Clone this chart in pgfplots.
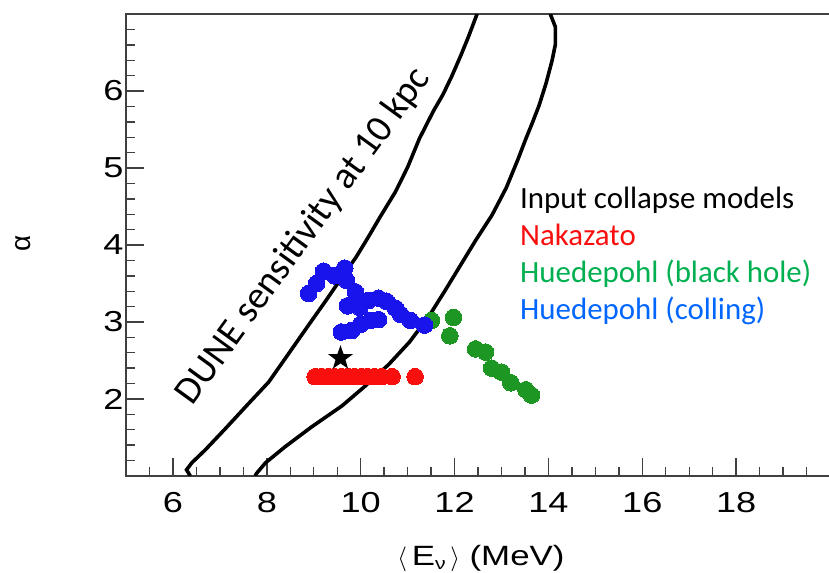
\documentclass[border=0pt]{standalone}
\usepackage{fontspec}
\setmainfont{Carlito}
\newfontfamily\helv[FakeStretch=1.25]{Liberation Sans}
\newfontfamily\helvn{Liberation Sans}
\usepackage{pgfplots}
\usepackage{pgfplotstable}
\pgfplotsset{compat=1.18}
\definecolor{mred}{RGB}{250,15,15}
\definecolor{mgreen}{RGB}{30,150,35}
\definecolor{mblue}{RGB}{25,20,235}
\definecolor{tgreen}{RGB}{0,176,80}
\definecolor{tblue}{RGB}{0,102,255}
\pgfdeclareplotmark{fstar}{%
  \pgfpathmoveto{\pgfpointpolar{90}{\pgfplotmarksize}}%
  \pgfpathlineto{\pgfpointpolar{126}{0.4\pgfplotmarksize}}%
  \pgfpathlineto{\pgfpointpolar{162}{\pgfplotmarksize}}%
  \pgfpathlineto{\pgfpointpolar{198}{0.4\pgfplotmarksize}}%
  \pgfpathlineto{\pgfpointpolar{234}{\pgfplotmarksize}}%
  \pgfpathlineto{\pgfpointpolar{270}{0.4\pgfplotmarksize}}%
  \pgfpathlineto{\pgfpointpolar{306}{\pgfplotmarksize}}%
  \pgfpathlineto{\pgfpointpolar{342}{0.4\pgfplotmarksize}}%
  \pgfpathlineto{\pgfpointpolar{18}{\pgfplotmarksize}}%
  \pgfpathlineto{\pgfpointpolar{54}{0.4\pgfplotmarksize}}%
  \pgfpathclose
  \pgfusepathqfill}

\pgfplotstableread{
x y
6.37 1.00
6.29 1.08
6.40 1.17
6.69 1.34
7.11 1.61
7.61 1.94
8.04 2.22
8.42 2.55
8.89 2.96
9.25 3.27
9.60 3.58
9.90 3.84
10.15 4.09
10.42 4.37
10.74 4.69
11.00 5.01
11.25 5.38
11.55 5.74
11.75 5.95
11.94 6.19
12.14 6.47
12.30 6.71
12.48 7.00
}\leftcurve

\pgfplotstableread{
x y
7.75 1.00
7.79 1.04
7.97 1.17
8.39 1.38
8.96 1.64
9.60 1.91
10.10 2.17
10.60 2.45
11.04 2.74
11.45 3.07
11.80 3.41
12.14 3.75
12.45 4.06
12.80 4.39
13.10 4.74
13.35 5.11
13.52 5.38
13.66 5.59
13.80 5.81
13.95 6.10
14.08 6.40
14.15 6.61
14.15 6.83
14.04 7.00
}\rightcurve

\pgfplotstableread{
x y
9.03 2.29
9.17 2.29
9.31 2.29
9.45 2.29
9.59 2.29
9.73 2.29
9.87 2.29
10.01 2.29
10.15 2.29
10.30 2.29
10.45 2.29
10.67 2.29
11.16 2.29
}\nakazato

\pgfplotstableread{
x y
8.89 3.37
9.06 3.50
9.21 3.66
9.44 3.60
9.66 3.70
9.70 3.54
9.89 3.39
9.72 3.21
9.98 3.19
10.17 3.28
10.38 3.31
10.55 3.27
10.21 3.02
10.00 2.97
9.81 2.89
9.59 2.87
10.38 3.03
10.74 3.18
10.85 3.10
11.06 3.02
11.36 2.96
}\cooling

\pgfplotstableread{
x y
11.51 3.02
11.98 3.06
11.90 2.82
12.45 2.65
12.66 2.61
12.79 2.40
13.00 2.35
13.20 2.21
13.52 2.12
13.64 2.05
}\blackhole

\pgfplotstableread{
x y
9.57 2.53
}\starpt

\begin{document}
\begin{tikzpicture}
\path[use as bounding box] (0,0) rectangle (829bp,573bp);
\begin{axis}[
  at={(126bp,97bp)}, anchor=south west,
  scale only axis, width=704bp, height=462bp,
  xmin=5, xmax=20, ymin=1, ymax=7,
  xtick={6,8,...,18}, ytick={2,3,4,5,6},
  minor xtick={5.5,6,...,19.5},
  minor ytick={1.2,1.4,...,6.8},
  tick align=inside, tick pos=left,
  major tick length=18bp, minor tick length=9bp,
  axis line style={line width=1.6bp, black!75},
  every tick/.style={line width=1.4bp, black!75},
  /pgf/number format/assume math mode=true,
  ticklabel style={font=\fontsize{29}{29}\selectfont\helv},
  xticklabel style={yshift=-13bp},
  yticklabel style={xshift=1bp},
]
\addplot[black, line width=3.6bp] table {\leftcurve};
\addplot[black, line width=3.6bp] table {\rightcurve};
\addplot[mred, only marks, mark=*, mark size=8.3bp, mark options={solid, fill=mred, draw=mred, line width=0pt}] table {\nakazato};
\addplot[mgreen, only marks, mark=*, mark size=8.3bp, mark options={solid, fill=mgreen, draw=mgreen, line width=0pt}] table {\blackhole};
\addplot[mblue, only marks, mark=*, mark size=8.3bp, mark options={solid, fill=mblue, draw=mblue, line width=0pt}] table {\cooling};
\addplot[black, only marks, mark=fstar, mark size=13bp, mark options={fill=black}] table {\starpt};
\end{axis}
\node[rotate=90, font=\fontsize{28}{28}\selectfont\helvn] at (23bp,330bp) {α};
\node[anchor=base, font=\fontsize{28}{28}\selectfont\helv] at (481bp,8bp) {$\langle$\,E\raisebox{-0.3ex}{\fontsize{17}{17}\selectfont ν}\,$\rangle$ (MeV)};
\node[rotate=54, anchor=base, font=\fontsize{38.5}{38.5}\selectfont] at (312bp,331bp) {DUNE sensitivity at 10 kpc};
\begin{scope}[every node/.style={anchor=base west, inner sep=0pt, font=\fontsize{31}{31}\selectfont}]
\node at (520bp,364bp) {Input collapse models};
\node[text=mred] at (520bp,327bp) {Nakazato};
\node[text=tgreen] at (520bp,290bp) {Huedepohl (black hole)};
\node[text=tblue] at (520bp,253bp) {Huedepohl (colling)};
\end{scope}
\end{tikzpicture}
\end{document}
